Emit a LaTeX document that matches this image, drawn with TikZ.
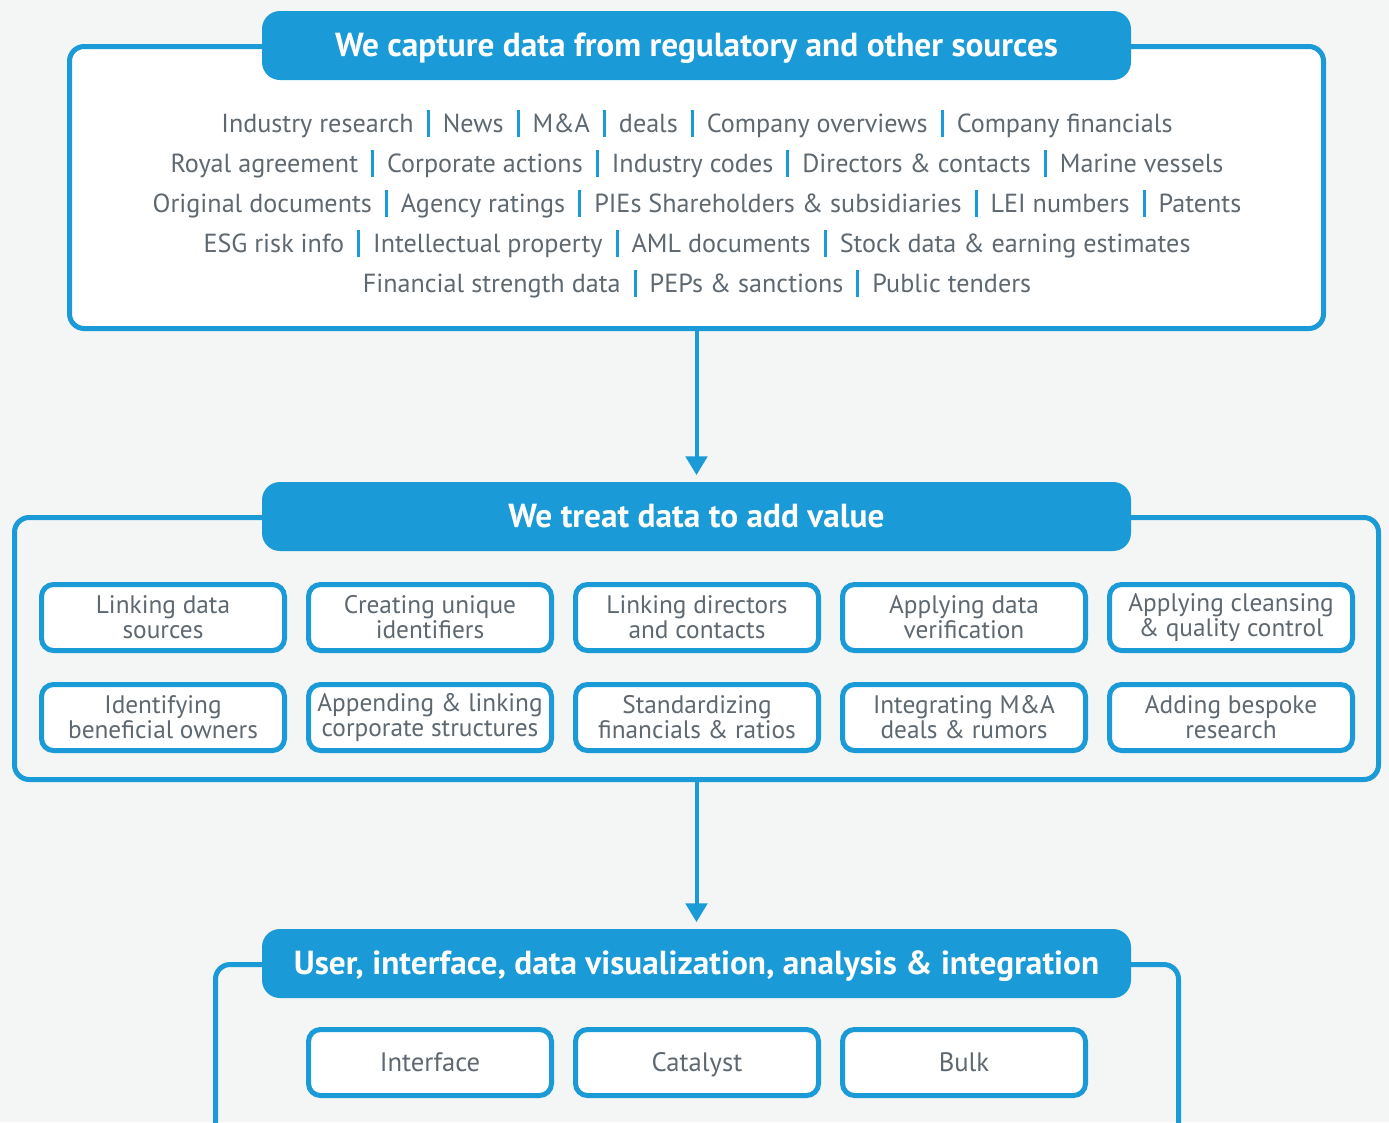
\documentclass[tikz,border=0pt]{standalone}
\usepackage{fontspec}
\setmainfont{PT Sans}
\usetikzlibrary{positioning, arrows.meta}

\definecolor{brandblue}{HTML}{1A9AD6}
\definecolor{textgrey}{HTML}{5E6871}
\definecolor{pagegrey}{HTML}{F4F5F5}

\newcommand{\sepbar}{\hspace{0.5em}{\color{brandblue}\rule[-0.18em]{2.2pt}{1.02em}}\hspace{0.5em}}

\begin{document}
\begin{tikzpicture}[x=0.75pt, y=-0.75pt, >=Triangle, node distance=21.75pt and 14.25pt]
	\tikzstyle{frame} = [draw=brandblue, line width=3.75pt, rounded corners=11pt, inner sep=0pt]
	\tikzstyle{header} = [fill=brandblue, rounded corners=13.5pt, minimum width=651.75pt, minimum height=51.75pt, inner sep=0pt, text height=17.5pt, text depth=0.5pt, text=white, font=\fontsize{25}{29}\selectfont\bfseries]
	\tikzstyle{stepbox} = [draw=brandblue, fill=white, line width=3.75pt, rounded corners=9pt, minimum width=182.25pt, minimum height=49.5pt, inner sep=0pt, align=center, text=textgrey, font=\fontsize{19}{18.75}\selectfont]
	\tikzstyle{outbox} = [stepbox, text height=15pt, text depth=1pt, font=\fontsize{20}{22}\selectfont]
	\tikzstyle{srcline} = [anchor=base, inner sep=0pt, text=textgrey, font=\fontsize{19.6}{24}\selectfont]
	\tikzstyle{flow} = [->, draw=brandblue, line width=3pt, arrows={-Triangle[width=16pt, length=14pt]}, shorten >=5pt]

	% page
	\fill[pagegrey] (0,0) rectangle (1389,1122);
	\useasboundingbox (0,0) rectangle (1389,1122);
	\clip (0,0) rectangle (1389,1122);

	% sources
	\node[frame, fill=white, minimum width=940.5pt, minimum height=211.5pt] (capture) at (696.5,187.5) {};
	\node[header] (capture-head) at (696.5,45.5) {We capture data from regulatory and other sources};
	\node[srcline] (src-1) at (697,132) {Industry research\sepbar News\sepbar M\&A\sepbar deals\sepbar Company overviews\sepbar Company financials};
	\node[srcline] (src-2) at (697,172) {Royal agreement\sepbar Corporate actions\sepbar Industry codes\sepbar Directors \& contacts\sepbar Marine vessels};
	\node[srcline] (src-3) at (697,212) {Original documents\sepbar Agency ratings\sepbar PIEs Shareholders \& subsidiaries\sepbar LEI numbers\sepbar Patents};
	\node[srcline] (src-4) at (697,252) {ESG risk info\sepbar Intellectual property\sepbar AML documents\sepbar Stock data \& earning estimates};
	\node[srcline] (src-5) at (697,292) {Financial strength data\sepbar PEPs \& sanctions\sepbar Public tenders};

	% treatment
	\node[frame, minimum width=1023pt, minimum height=196.5pt] (treat) at (696.5,648.5) {};
	\node[header] (treat-head) at (696.5,516.5) {We treat data to add value};

	\node[stepbox] (link-src) at (163,617.5) {Linking data\\sources};
	\node[stepbox, right=of link-src] (unique-id) {Creating unique\\identifiers};
	\node[stepbox, right=of unique-id] (link-dir) {Linking directors\\and contacts};
	\node[stepbox, right=of link-dir] (verify) {Applying data\\verification};
	\node[stepbox, right=of verify] (cleanse) {Applying cleansing\\\& quality control};

	\node[stepbox, below=of link-src] (owners) {Identifying\\beneficial owners};
	\node[stepbox, right=of owners] (structures) {Appending \& linking\\corporate structures};
	\node[stepbox, right=of structures] (ratios) {Standardizing\\financials \& ratios};
	\node[stepbox, right=of ratios] (mna) {Integrating M\&A\\deals \& rumors};
	\node[stepbox, right=of mna] (bespoke) {Adding bespoke\\research};

	% delivery
	\node[frame, minimum width=722.25pt, minimum height=146.6pt] (deliver) at (697,1062.25) {};
	\node[header] (deliver-head) at (696.5,963.5) {User, interface, data visualization, analysis \& integration};

	\node[outbox] (catalyst) at (697,1062.5) {Catalyst};
	\node[outbox, left=of catalyst] (interface) {Interface};
	\node[outbox, right=of catalyst] (bulk) {Bulk};

	% flow
	\draw[flow] (capture.south) -- (treat-head.north);
	\draw[flow] (treat.south) -- (deliver-head.north);
\end{tikzpicture}
\end{document}
